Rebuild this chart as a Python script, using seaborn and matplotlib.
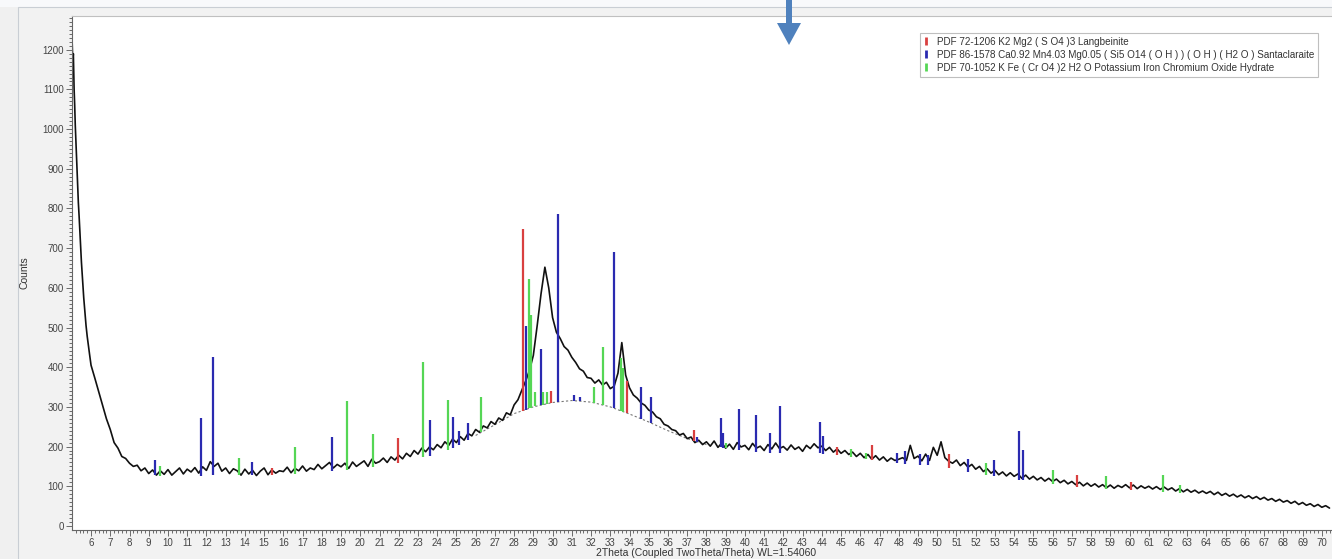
import numpy as np
import matplotlib
matplotlib.use("Agg")
import matplotlib.pyplot as plt
import seaborn as sns
from matplotlib.patches import Polygon, Rectangle
from matplotlib.lines import Line2D
from matplotlib.ticker import MultipleLocator

tth_lead = [5.02, 5.05, 5.08, 5.12, 5.15, 5.18, 5.22, 5.26, 5.30, 5.34, 5.38, 5.44,
            5.50, 5.56, 5.62, 5.68, 5.74, 5.80, 5.86, 5.93]
counts_lead = [1215, 1170, 1190, 1100, 1060, 1010, 960, 905, 860, 815, 780, 720,
               665, 620, 575, 540, 505, 478, 455, 430]

# 6.0 .. 70.4 deg, 0.2 deg steps (one row = 2 deg)
counts = [
    405, 372, 338, 305, 270, 243, 210, 196, 175, 170,
    158, 150, 153, 139, 146, 132, 141, 128, 139, 130,
    142, 128, 137, 146, 131, 143, 136, 147, 133, 149,
    140, 162, 150, 158, 138, 146, 132, 144, 139, 128,
    143, 131, 140, 127, 138, 146, 129, 141, 133, 139,
    137, 148, 134, 145, 139, 151, 138, 146, 142, 155,
    144, 152, 160, 146, 155, 149, 158, 145, 161, 150,
    157, 164, 150, 168, 158, 162, 171, 160, 174, 166,
    178, 169, 183, 175, 190, 181, 196, 187, 199, 192,
    205, 197, 212, 203, 219, 210, 225, 216, 233, 227,
    243, 236, 252, 247, 263, 256, 272, 266, 285, 280,
    305, 318, 342, 365, 392, 430, 505, 585, 652, 600,
    525, 488, 472, 452, 443, 425, 412, 396, 390, 374,
    372, 360, 368, 355, 362, 346, 352, 385, 462, 380,
    348, 330, 322, 310, 304, 292, 287, 275, 270, 256,
    252, 243, 240, 229, 233, 220, 224, 210, 216, 205,
    212, 201, 214, 198, 209, 196, 206, 193, 210, 199,
    203, 192, 208, 196, 201, 190, 205, 194, 209, 195,
    200, 191, 204, 193, 199, 188, 203, 195, 207, 197,
    201, 190, 198, 186, 194, 183, 190, 180, 186, 175,
    183, 172, 180, 168, 177, 166, 174, 163, 171, 165,
    168, 172, 165, 203, 170, 176, 164, 181, 165, 198,
    178, 212, 172, 163, 158, 166, 152, 160, 148, 155,
    143, 150, 137, 144, 133, 140, 129, 136, 126, 134,
    125, 131, 120, 128, 118, 125, 116, 122, 113, 120,
    112, 118, 109, 115, 106, 112, 104, 110, 101, 108,
    100, 106, 98, 104, 96, 103, 95, 102, 97, 104,
    96, 103, 94, 101, 95, 100, 93, 99, 92, 98,
    91, 96, 88, 94, 86, 92, 85, 90, 83, 88,
    82, 87, 79, 85, 77, 82, 75, 80, 73, 78,
    71, 76, 69, 74, 67, 72, 65, 69, 62, 67,
    60, 64, 57, 62, 54, 59, 52, 56, 49, 54,
    47, 51, 45,
]
tth_main = np.linspace(6.0, 70.4, len(counts))

# fitted background (dashed under the amorphous hump)
bkg_tth = [8, 10, 12, 14, 16, 18, 20, 22, 24, 25, 26, 27, 28, 29, 30, 31, 32, 33, 34,
           35, 36, 37, 38, 40, 42, 44, 46, 48, 50, 52, 54, 56, 58, 60, 62, 64, 66, 68, 70.5]
bkg = [135, 125, 127, 128, 130, 136, 144, 158, 182, 200, 228, 255, 283, 300, 311, 316,
       312, 300, 282, 262, 240, 220, 205, 188, 183, 183, 170, 158, 152, 132, 118, 106,
       95, 90, 86, 77, 66, 53, 40]

# reference stick patterns
red_pos = [15.43, 21.95, 28.45, 29.9, 33.86, 37.37, 44.8, 46.6, 50.6, 57.26, 60.1]
red_top = [145, 221, 748, 341, 364, 242, 200, 204, 180, 129, 110]

blue_pos = [9.3, 11.72, 12.33, 14.36, 18.52, 23.6, 24.81, 25.15, 25.59, 28.6, 29.4,
            30.28, 31.13, 31.43, 33.18, 34.59, 35.1, 37.5, 38.75, 38.88, 39.71, 40.57,
            41.31, 41.85, 43.91, 44.08, 47.9, 48.3, 49.1, 49.5, 51.62, 52.96, 54.26, 54.48]
blue_top = [165, 271, 425, 162, 224, 267, 274, 238, 259, 504, 446, 786, 330, 326, 691,
            351, 326, 224, 271, 235, 295, 280, 234, 301, 263, 227, 185, 190, 180, 178,
            169, 166, 240, 192]

green_pos = [9.6, 13.71, 16.61, 19.33, 20.65, 23.25, 24.58, 26.28, 28.78, 28.88, 29.1,
             29.5, 29.7, 32.17, 32.64, 33.55, 33.65, 39.0, 45.5, 46.3, 52.54, 56.04,
             58.78, 61.76, 62.63]
green_top = [150, 171, 198, 316, 232, 414, 318, 326, 623, 532, 338, 338, 338, 351, 452,
             423, 398, 210, 195, 185, 158, 141, 126, 129, 103]

labels = [
    "PDF 72-1206 K2 Mg2 ( S O4 )3 Langbeinite",
    "PDF 86-1578 Ca0.92 Mn4.03 Mg0.05 ( Si5 O14 ( O H ) ) ( O H ) ( H2 O ) Santaclaraite",
    "PDF 70-1052 K Fe ( Cr O4 )2 H2 O Potassium Iron Chromium Oxide Hydrate",
]
colors = ["#d94040", "#2a2ab0", "#55d655"]

sns.set_style("white")
plt.rcParams['font.family'] = ['Liberation Sans', 'DejaVu Sans']

W, H = 1332, 559
fig = plt.figure(figsize=(W / 100, H / 100), dpi=100, facecolor='#f0f0f0')

# window-ish frame around the plot
fig.add_artist(Rectangle((0, 1 - 7 / H), 1, 7 / H, transform=fig.transFigure,
                         facecolor='#f8f9fb', edgecolor='none', zorder=0))
fig.add_artist(Rectangle((18 / W, -0.01), 1, 1 - 7 / H + 0.01, transform=fig.transFigure,
                         facecolor='#f2f2f2', edgecolor='#c9ced4', lw=0.8, zorder=0))

ax = fig.add_axes([72 / W, 1 - 529.5 / H, 1 - 72 / W, (529.5 - 16) / H])
ax.set_facecolor('white')

tth = np.concatenate([tth_lead, tth_main])
cnt = np.concatenate([counts_lead, counts])

bkg_tth = np.array(bkg_tth)
bkg = np.array(bkg)
show = (bkg_tth >= 26) & (bkg_tth <= 38)
ax.plot(bkg_tth[show], bkg[show], color='#777777', lw=0.8, ls=(0, (2, 2)), zorder=1)

sns.lineplot(x=tth, y=cnt, ax=ax, color='#111111', lw=1.2, estimator=None, sort=False,
             zorder=2)

for pos, top, c in [(red_pos, red_top, colors[0]), (blue_pos, blue_top, colors[1]),
                    (green_pos, green_top, colors[2])]:
    base = np.interp(pos, bkg_tth, bkg)
    ax.vlines(pos, base, top, colors=c, lw=1.6, zorder=3)

ax.set_xlim(5.01, 70.53)
ax.set_ylim(-9, 1285)
ax.xaxis.set_major_locator(MultipleLocator(1))
ax.xaxis.set_minor_locator(MultipleLocator(0.2))
ax.yaxis.set_major_locator(MultipleLocator(100))
ax.yaxis.set_minor_locator(MultipleLocator(10))
ax.tick_params(which='both', direction='out', color='#555555', width=0.6,
               labelsize=7, labelcolor='#444444', pad=2, bottom=True, left=True)
ax.tick_params(which='major', length=4)
ax.tick_params(which='minor', length=2)

for s in ['left', 'bottom']:
    ax.spines[s].set_color('#666666')
    ax.spines[s].set_linewidth(0.8)
ax.spines['top'].set_color('#c0c0c0')
ax.spines['top'].set_linewidth(0.8)
ax.spines['right'].set_visible(False)

ax.set_xlabel("2Theta (Coupled TwoTheta/Theta) WL=1.54060", fontsize=7.5, color='#333333')
ax.set_ylabel("Counts", fontsize=7.5, color='#333333')
ax.xaxis.set_label_coords((706 - 72) / 1260, -(548 - 529.5) / 513.5)
ax.yaxis.set_label_coords(-(72 - 30) / 1260, 0.5)

handles = [Line2D([], [], color=c, marker='|', ls='none', markersize=6, markeredgewidth=2)
           for c in colors]
leg = fig.legend(handles, labels, loc='upper left', bbox_to_anchor=(920 / W, 1 - 33 / H),
                 fontsize=7.1, frameon=True, fancybox=False, edgecolor='#b0b0b0',
                 handlelength=0.5, handletextpad=0.8, borderpad=0.4, labelspacing=0.3,
                 borderaxespad=0)
leg.get_frame().set_linewidth(0.8)
for t in leg.get_texts():
    t.set_color('#333333')

# blue arrow at the top
arrow = [(786, 0), (792, 0), (792, 23), (801, 23), (789, 45), (777, 23), (786, 23)]
fig.add_artist(Polygon([(x / W, 1 - y / H) for x, y in arrow], closed=True,
                       transform=fig.transFigure, facecolor='#4f81bd', edgecolor='none',
                       zorder=10))

fig.savefig("out.png", dpi=100, facecolor=fig.get_facecolor())
